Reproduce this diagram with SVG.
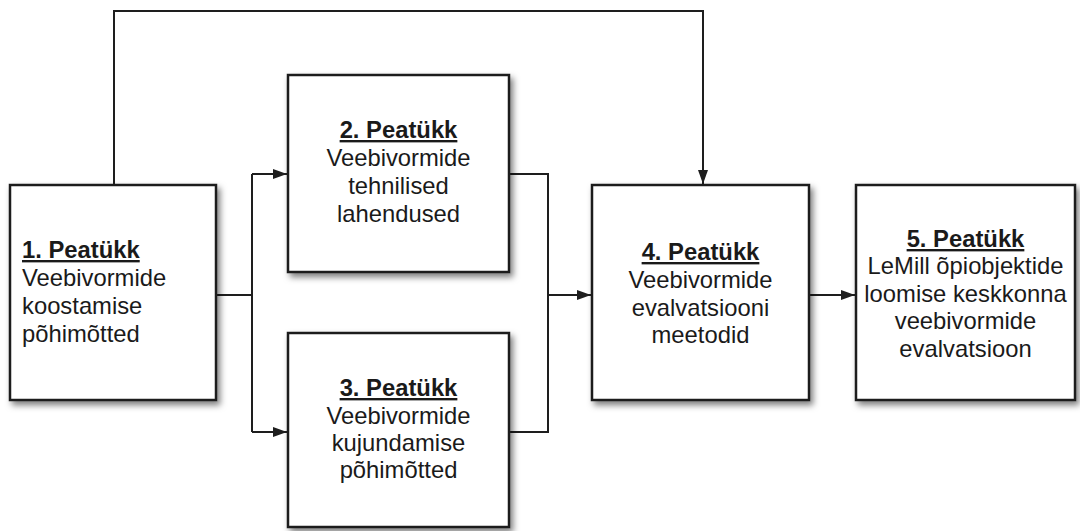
<svg xmlns="http://www.w3.org/2000/svg" width="1080" height="531" viewBox="0 0 1080 531">
<style>
.box{fill:#fff;stroke:#1e1e1e;stroke-width:2.5;filter:url(#sh)}
.t{font-family:"Liberation Sans",Arial,sans-serif;font-size:23.8px;fill:#1a1a1a}
.h{font-weight:bold;text-decoration:underline}
.c{text-anchor:middle}
.ln{fill:none;stroke:#1e1e1e;stroke-width:2}
</style>
<defs>
<filter id="sh" x="-10%" y="-10%" width="125%" height="125%">
<feDropShadow dx="3" dy="4" stdDeviation="3" flood-color="#000" flood-opacity="0.5"/>
</filter>
<marker id="ar" viewBox="0 0 14 10" refX="14" refY="5" markerWidth="14" markerHeight="10" markerUnits="userSpaceOnUse" orient="auto">
<path d="M0,0 L14,5 L0,10 Z" fill="#1e1e1e"/>
</marker>
</defs>
<rect width="1080" height="531" fill="#fff"/>
<g id="connectors">
<path class="ln" d="M114,185 V11 H703 V184" marker-end="url(#ar)"/>
<path class="ln" d="M216,295 H252"/>
<path class="ln" d="M252,174 V432"/>
<path class="ln" d="M252,174 H287" marker-end="url(#ar)"/>
<path class="ln" d="M252,432 H287" marker-end="url(#ar)"/>
<path class="ln" d="M509,174 H548 V432 H509"/>
<path class="ln" d="M548,295 H591" marker-end="url(#ar)"/>
<path class="ln" d="M809,295 H855" marker-end="url(#ar)"/>
</g>
<g id="n1">
<rect class="box" x="10" y="185" width="206" height="215"/>
<text class="t h" x="22" y="258">1. Peatükk</text>
<text class="t" x="22" y="286">Veebivormide</text>
<text class="t" x="22" y="314">koostamise</text>
<text class="t" x="22" y="342">põhimõtted</text>
</g>
<g id="n2">
<rect class="box" x="288" y="75" width="221" height="197"/>
<text class="t h c" x="398.5" y="138">2. Peatükk</text>
<text class="t c" x="398.5" y="166">Veebivormide</text>
<text class="t c" x="398.5" y="194">tehnilised</text>
<text class="t c" x="398.5" y="222">lahendused</text>
</g>
<g id="n3">
<rect class="box" x="288" y="333" width="221" height="194"/>
<text class="t h c" x="398.5" y="396">3. Peatükk</text>
<text class="t c" x="398.5" y="424">Veebivormide</text>
<text class="t c" x="398.5" y="451">kujundamise</text>
<text class="t c" x="398.5" y="478">põhimõtted</text>
</g>
<g id="n4">
<rect class="box" x="592" y="185" width="217" height="215"/>
<text class="t h c" x="700.5" y="260">4. Peatükk</text>
<text class="t c" x="700.5" y="288">Veebivormide</text>
<text class="t c" x="700.5" y="316">evalvatsiooni</text>
<text class="t c" x="700.5" y="343">meetodid</text>
</g>
<g id="n5">
<rect class="box" x="856" y="185" width="219" height="215"/>
<text class="t h c" x="965.5" y="247">5. Peatükk</text>
<text class="t c" x="965.5" y="274">LeMill õpiobjektide</text>
<text class="t c" x="965.5" y="302">loomise keskkonna</text>
<text class="t c" x="965.5" y="329">veebivormide</text>
<text class="t c" x="965.5" y="357">evalvatsioon</text>
</g>
</svg>
